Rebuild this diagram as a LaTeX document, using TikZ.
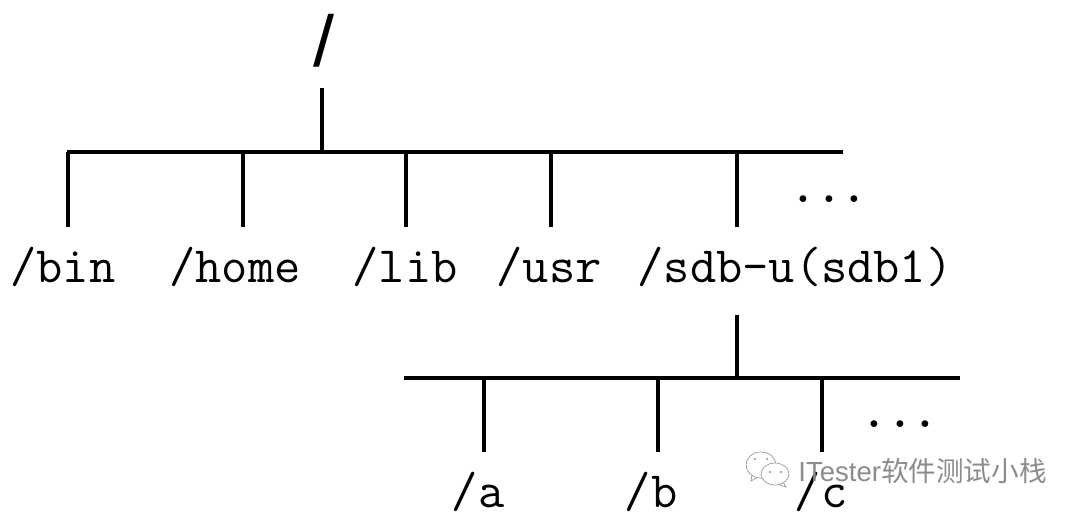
\documentclass[tikz,border=0pt]{standalone}
\usepackage{fontspec}
\usepackage{tikz}
\newfontfamily\cjkfont{Noto Sans CJK SC}
\newfontfamily\markfont{Liberation Sans}

\begin{document}
\begin{tikzpicture}[x=0.02cm,y=-0.02cm]
\useasboundingbox (0,0) rectangle (1080,520);
\tikzset{dirline/.style={draw=black, line width=2.2pt},
         dirtext/.style={anchor=base, inner sep=0pt, text height=1.12cm, font=\fontsize{29}{29}\selectfont\ttfamily},
         markline/.style={draw=black!40, fill=white, line width=0.4pt}}

\begin{scope}[every node/.style={dirtext}]
    \node (bin) at (63,283) {/bin};
    \node (home) at (235,283) {/home};
    \node (lib) at (405,283) {/lib};
    \node (usr) at (549,283) {/usr};
    \node[text depth=0.64cm] (sdb) at (795,283) {/sdb-u(sdb1)};
    \node[font=\fontsize{28}{28}\selectfont\ttfamily\bfseries] (topdots) at (829,203) {...};
    \node (a) at (478,508) {/a};
    \node (b) at (651,508) {/b};
    \node (c) at (821,508) {/c};
    \node[font=\fontsize{28}{28}\selectfont\ttfamily\bfseries] (subdots) at (900,428) {...};
    \node[text height=0pt, text depth=0.42cm, font=\fontsize{41}{41}\selectfont\markfont] (root) at (324.5,67) {\scalebox{1.05}[1]{/}};
\end{scope}

\coordinate (topleft) at (67,152);
\coordinate (topright) at (843,152);
\coordinate (topstem) at (322,152);
\coordinate (subleft) at (404,378);
\coordinate (subright) at (960,378);
\coordinate (substem) at (737,378);

\begin{scope}[every path/.style={dirline}]
    \draw (topleft) -- (topright);
    \draw (subleft) -- (subright);
    \draw (topstem |- root.south) -- (topstem);
    \draw (substem |- sdb.south) -- (substem);
    \draw (68,152) coordinate (bintap) -- (bintap |- bin.north);
    \draw (243,152) coordinate (hometap) -- (hometap |- home.north);
    \draw (406,152) coordinate (libtap) -- (libtap |- lib.north);
    \draw (551,152) coordinate (usrtap) -- (usrtap |- usr.north);
    \draw (737,152) coordinate (sdbtap) -- (sdbtap |- sdb.north);
    \draw (484,378) coordinate (atap) -- (atap |- a.north);
    \draw (658,378) coordinate (btap) -- (btap |- b.north);
    \draw (822,378) coordinate (ctap) -- (ctap |- c.north);
\end{scope}

% watermark
\begin{scope}[every path/.style={markline}]
    \draw (752,475) -- (751,481) -- (760,476) -- cycle;
    \draw (761,465) ellipse (15 and 13);
    \draw (783,482) -- (786,487) -- (777,484) -- cycle;
    \draw (775,474) ellipse (14 and 11);
\end{scope}
\foreach \px/\py in {755/459, 767/459, 770/472, 781/472}
    \fill[black!45] (\px,\py) circle (1.2);
\node[anchor=west, inner sep=0pt, text=black!45, font=\fontsize{15.7}{15.7}\selectfont] (mark) at (798,471)
    {{\markfont ITester}{\cjkfont 软件测试小栈}};
\end{tikzpicture}
\end{document}
